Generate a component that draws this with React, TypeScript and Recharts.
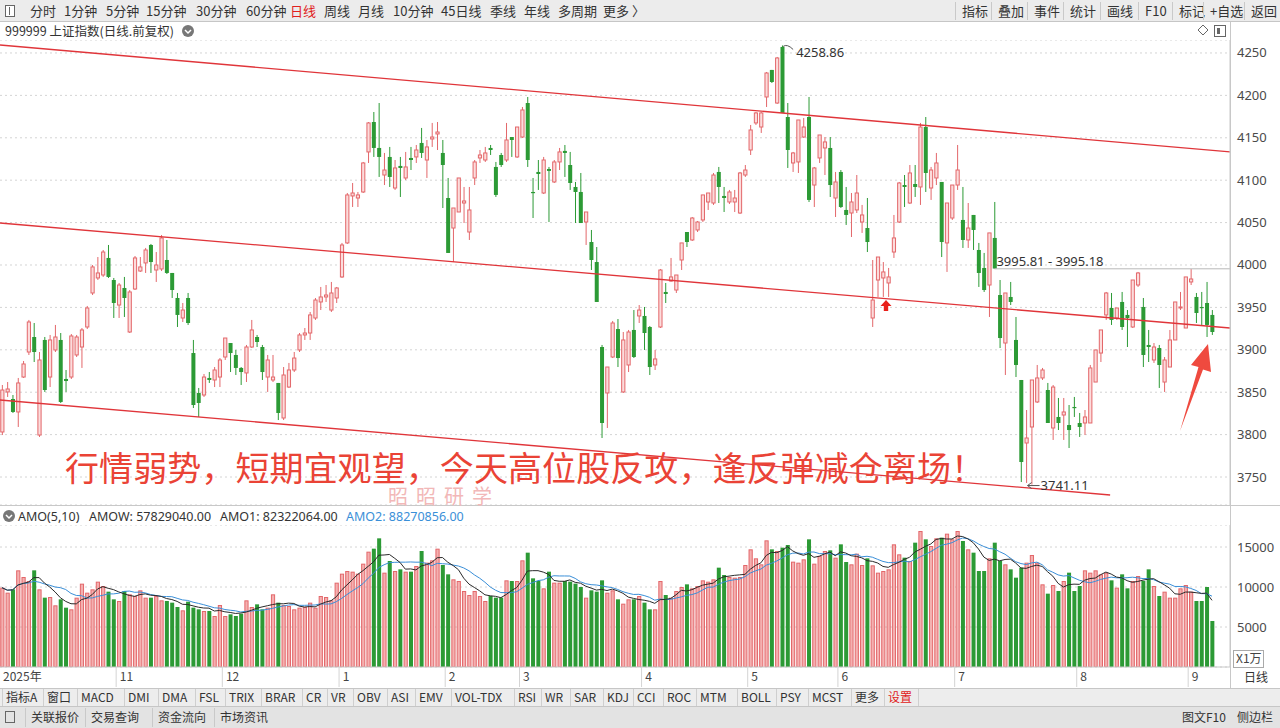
import React from "react";
import {
  ComposedChart,
  Bar,
  Line,
  XAxis,
  YAxis,
  CartesianGrid,
  ReferenceLine,
  ReferenceDot,
} from "recharts";

// 上证指数 日线 (前复权) — 开 / 高 / 低 / 收
const opens = [
  3803.1, 3850.3, 3842.0, 3826.7, 3867.9, 3897.4, 3915.1, 3799.5, 3911.6, 3867.9,
  3899.8, 3911.6, 3865.6, 3867.9, 3893.9, 3903.3, 3926.9, 3967.0, 3984.7, 3988.2,
  4008.3, 3982.3, 3952.8, 3972.9, 3921.0, 3971.7, 3992.9, 4002.4, 4023.6, 3994.1,
  3995.3, 4005.9, 3990.6, 3961.1, 3937.5, 3961.1, 3896.2, 3849.1, 3846.7, 3866.8,
  3864.4, 3867.9, 3891.5, 3908.0, 3893.9, 3878.6, 3872.7, 3903.3, 3915.1, 3903.3,
  3867.9, 3864.4, 3860.9, 3819.6, 3856.1, 3876.2, 3899.8, 3917.5, 3919.8, 3937.5,
  3956.4, 3962.3, 3946.9, 3961.1, 3985.9, 4026.0, 4081.4, 4079.0, 4086.1, 4133.3,
  4168.6, 4138.0, 4106.1, 4127.4, 4090.8, 4116.8, 4102.6, 4126.2, 4127.4, 4143.9,
  4123.8, 4148.6, 4154.5, 4132.1, 4079.0, 4043.6, 4062.5, 4073.1, 4038.9, 4102.6,
  4126.2, 4123.8, 4138.0, 4115.6, 4129.7, 4123.8, 4150.9, 4127.4, 4150.9, 4191.0,
  4086.1, 4109.7, 4084.9, 4113.2, 4097.9, 4121.5, 4134.5, 4117.9, 4092.0, 4086.1,
  4050.7, 4027.1, 4003.5, 3903.3, 3849.1, 3891.5, 3924.5, 3850.3, 3882.1, 3923.4,
  3939.9, 3939.9, 3926.9, 3882.1, 3926.9, 3968.2, 3981.1, 3970.5, 4005.9, 4038.9,
  4029.5, 4041.3, 4053.1, 4074.3, 4073.1, 4109.7, 4081.4, 4074.3, 4074.3, 4061.3,
  4106.1, 4135.6, 4167.5, 4162.7, 4198.1, 4230.0, 4191.0, 4257.1, 4174.5, 4120.3,
  4121.5, 4150.9, 4174.5, 4094.3, 4126.2, 4138.0, 4138.0, 4079.0, 4109.7, 4064.9,
  4061.3, 4064.9, 4050.7, 4043.6, 3937.5, 3982.3, 3984.7, 3978.8, 4015.3, 4050.7,
  4094.3, 4073.1, 4095.5, 4092.0, 4162.7, 4090.8, 4102.6, 4097.9, 4026.0, 4055.4,
  4094.3, 4053.1, 4029.5, 4059.0, 4017.7, 3996.5, 3976.4, 4031.9, 3964.6, 3908.0,
  3962.3, 3911.6, 3864.4, 3790.1, 3809.0, 3838.5, 3866.8, 3852.6, 3807.8, 3820.8,
  3823.1, 3811.3, 3832.6, 3813.7, 3813.7, 3813.7, 3862.0, 3896.2, 3941.1, 3949.3,
  3937.5, 3956.4, 3941.1, 3926.9, 3976.4, 3950.5, 3905.7, 3888.0, 3902.1, 3862.0,
  3879.7, 3911.6, 3949.3, 3925.7, 3980.0, 3962.3, 3950.5, 3955.2, 3941.1,
];

const highs = [
  3858.5, 3862.0, 3846.7, 3866.8, 3886.8, 3935.2, 3931.6, 3897.4, 3915.1, 3917.5,
  3929.3, 3919.8, 3876.2, 3918.6, 3917.5, 3925.7, 3951.7, 4000.0, 4009.4, 4017.7,
  4023.6, 3984.7, 3978.8, 3985.9, 3970.5, 4010.6, 4009.4, 4020.1, 4024.8, 4015.3,
  4035.4, 4029.5, 3990.6, 3967.0, 3955.2, 3967.0, 3911.6, 3855.0, 3871.5, 3873.8,
  3879.7, 3890.3, 3913.9, 3908.0, 3899.8, 3879.7, 3905.7, 3935.2, 3917.5, 3905.7,
  3893.9, 3893.9, 3860.9, 3879.7, 3884.5, 3897.4, 3919.8, 3925.7, 3944.6, 3961.1,
  3974.1, 3976.4, 3980.0, 3974.1, 4026.0, 4084.9, 4096.7, 4086.1, 4121.5, 4168.6,
  4180.4, 4191.0, 4132.1, 4139.2, 4123.8, 4127.4, 4133.3, 4139.2, 4141.5, 4161.6,
  4147.4, 4167.5, 4168.6, 4147.4, 4102.6, 4067.2, 4102.6, 4092.0, 4092.0, 4123.8,
  4135.6, 4139.2, 4141.5, 4121.5, 4132.1, 4167.5, 4150.9, 4162.7, 4186.3, 4198.1,
  4102.6, 4123.8, 4127.4, 4115.6, 4123.8, 4138.0, 4141.5, 4133.3, 4097.9, 4108.5,
  4062.5, 4041.3, 4021.2, 3905.7, 3879.7, 3934.0, 3936.3, 3921.0, 3923.4, 3946.9,
  3952.8, 3950.5, 3928.1, 3899.8, 3995.3, 3978.8, 4008.3, 3988.2, 4026.0, 4038.9,
  4056.6, 4051.9, 4082.6, 4084.9, 4108.5, 4115.6, 4092.0, 4088.5, 4088.5, 4109.7,
  4117.9, 4165.1, 4180.4, 4180.4, 4227.6, 4230.0, 4245.3, 4258.86, 4191.0, 4133.3,
  4171.0, 4173.4, 4198.1, 4115.6, 4153.3, 4150.9, 4150.9, 4109.7, 4112.0, 4092.0,
  4084.9, 4106.1, 4070.8, 4079.0, 4005.9, 4009.4, 4003.5, 3996.5, 4059.0, 4097.9,
  4106.1, 4117.9, 4117.9, 4167.5, 4174.5, 4115.6, 4132.1, 4097.9, 4073.1, 4094.3,
  4141.5, 4092.0, 4073.1, 4059.0, 4026.0, 4014.2, 4037.8, 4074.3, 3982.3, 3967.0,
  3980.0, 3938.7, 3864.4, 3829.0, 3864.4, 3882.1, 3878.6, 3860.9, 3858.5, 3843.2,
  3843.2, 3834.9, 3844.4, 3825.5, 3829.0, 3882.1, 3899.8, 3923.4, 3968.2, 3967.0,
  3949.3, 3968.2, 3946.9, 3982.3, 3991.8, 3961.1, 3923.4, 3908.0, 3905.7, 3891.5,
  3923.4, 3956.4, 3968.2, 3985.9, 3995.18, 3967.0, 3968.2, 3980.0, 3946.9,
];

const lows = [
  3799.5, 3844.4, 3825.5, 3809.0, 3866.8, 3893.9, 3885.6, 3797.2, 3850.3, 3856.1,
  3897.4, 3837.3, 3850.3, 3865.6, 3891.5, 3878.6, 3924.5, 3964.6, 3982.3, 3985.9,
  3984.7, 3937.5, 3937.5, 3938.7, 3919.8, 3970.5, 3991.8, 3990.6, 3990.6, 3980.0,
  3992.9, 3989.4, 3961.1, 3926.9, 3932.8, 3929.3, 3831.4, 3820.8, 3844.4, 3860.9,
  3856.1, 3856.1, 3888.0, 3873.8, 3870.3, 3858.5, 3862.0, 3902.1, 3903.3, 3864.4,
  3850.3, 3862.0, 3817.2, 3817.2, 3855.0, 3873.8, 3897.4, 3911.6, 3911.6, 3935.2,
  3946.9, 3956.4, 3944.6, 3955.2, 3984.7, 4024.8, 4068.4, 4068.4, 4084.9, 4120.3,
  4127.4, 4103.8, 4094.3, 4092.0, 4088.5, 4080.2, 4100.2, 4112.0, 4120.3, 4126.2,
  4102.6, 4139.2, 4135.6, 4067.2, 4014.2, 4003.5, 4062.5, 4049.5, 4029.5, 4094.3,
  4120.3, 4121.5, 4129.7, 4080.2, 4115.6, 4121.5, 4127.4, 4126.2, 4149.8, 4115.6,
  4055.4, 4088.5, 4083.7, 4050.7, 4096.7, 4112.0, 4103.8, 4088.5, 4049.5, 4049.5,
  4023.6, 3994.1, 3956.4, 3796.0, 3807.8, 3890.3, 3879.7, 3849.1, 3873.8, 3890.3,
  3931.6, 3899.8, 3870.3, 3876.2, 3925.7, 3955.2, 3980.0, 3967.0, 3994.1, 4021.2,
  4028.3, 4038.9, 4050.7, 4064.9, 4070.8, 4073.1, 4062.5, 4071.9, 4062.5, 4060.2,
  4103.8, 4129.7, 4165.1, 4155.7, 4186.3, 4214.6, 4189.9, 4179.3, 4114.4, 4109.7,
  4108.5, 4149.8, 4074.3, 4068.4, 4120.3, 4106.1, 4080.2, 4056.6, 4067.2, 4047.2,
  4033.0, 4061.3, 4037.8, 4015.3, 3926.9, 3962.3, 3962.3, 3962.3, 4008.3, 4049.5,
  4068.4, 4071.9, 4080.2, 4070.8, 4086.1, 4076.7, 4094.3, 4009.4, 3991.8, 4053.1,
  4088.5, 4020.1, 4020.1, 4017.7, 3974.1, 3968.2, 3938.7, 3995.81, 3902.1, 3870.3,
  3952.8, 3867.9, 3744.1, 3743.0, 3741.11, 3837.3, 3864.4, 3813.7, 3793.7, 3805.4,
  3793.7, 3784.2, 3820.8, 3797.2, 3799.5, 3813.7, 3862.0, 3885.6, 3935.2, 3929.3,
  3935.2, 3923.4, 3903.3, 3925.7, 3974.1, 3879.7, 3885.6, 3884.5, 3855.0, 3850.3,
  3879.7, 3911.6, 3946.9, 3925.7, 3976.4, 3931.6, 3929.3, 3915.1, 3917.5,
];

const closes = [
  3852.6, 3853.8, 3826.7, 3860.9, 3883.3, 3932.8, 3897.4, 3888.0, 3852.6, 3911.6,
  3915.1, 3838.5, 3863.2, 3916.3, 3915.1, 3923.4, 3949.3, 3997.7, 3990.6, 4015.3,
  3985.9, 3955.2, 3976.4, 3961.1, 3968.2, 4008.3, 3997.7, 4017.7, 4003.5, 4000.0,
  4031.9, 3990.6, 3970.5, 3941.1, 3946.9, 3931.6, 3834.9, 3837.3, 3867.9, 3864.4,
  3876.2, 3888.0, 3913.9, 3896.2, 3878.6, 3873.8, 3903.3, 3923.4, 3909.2, 3873.8,
  3888.0, 3867.9, 3825.5, 3870.3, 3876.2, 3890.3, 3917.5, 3919.8, 3941.1, 3958.7,
  3962.3, 3964.6, 3967.0, 3972.9, 4023.6, 4082.6, 4084.9, 4082.6, 4120.3, 4167.5,
  4138.0, 4127.4, 4112.0, 4103.8, 4114.4, 4114.4, 4115.6, 4123.8, 4135.6, 4132.1,
  4139.2, 4150.9, 4156.8, 4117.9, 4014.2, 4067.2, 4102.6, 4075.5, 4064.9, 4121.5,
  4129.7, 4132.1, 4135.6, 4082.6, 4117.9, 4147.4, 4147.4, 4162.7, 4182.8, 4123.8,
  4084.9, 4107.3, 4123.8, 4110.9, 4121.5, 4133.3, 4132.1, 4096.7, 4086.1, 4049.5,
  4062.5, 4005.9, 3956.4, 3813.7, 3879.7, 3931.6, 3890.3, 3911.6, 3921.0, 3891.5,
  3946.9, 3919.8, 3879.7, 3889.2, 3994.1, 3965.8, 3985.9, 3988.2, 4026.0, 4027.1,
  4055.4, 4050.7, 4082.6, 4084.9, 4106.1, 4092.0, 4079.0, 4086.1, 4079.0, 4108.5,
  4112.0, 4159.2, 4179.3, 4179.3, 4226.4, 4215.8, 4244.1, 4179.3, 4135.6, 4132.1,
  4171.0, 4162.7, 4076.7, 4114.4, 4153.3, 4145.1, 4094.3, 4097.9, 4068.4, 4059.0,
  4074.3, 4084.9, 4059.0, 4027.1, 3958.7, 4009.4, 3991.8, 3985.9, 4031.9, 4096.7,
  4092.0, 4108.5, 4092.0, 4162.7, 4108.5, 4112.0, 4120.3, 4027.1, 4073.1, 4094.3,
  4112.0, 4029.5, 4043.6, 4041.3, 3990.6, 3970.5, 4037.8, 3995.81, 3913.9, 3967.0,
  3956.4, 3882.1, 3767.7, 3796.0, 3864.4, 3866.8, 3876.2, 3813.7, 3856.1, 3813.7,
  3826.7, 3805.4, 3831.4, 3809.0, 3820.8, 3878.6, 3899.8, 3923.4, 3967.0, 3935.2,
  3949.3, 3926.9, 3937.5, 3982.3, 3990.6, 3893.9, 3903.3, 3903.3, 3882.1, 3888.0,
  3911.6, 3956.4, 3950.5, 3985.9, 3983.5, 3943.4, 3949.3, 3929.3, 3921.0,
];

// 成交额 AMO (X1万)
const amounts = [
  9917, 9292, 9708, 12083, 11250, 10750, 12083, 9708, 8667, 8750,
  7708, 8458, 7417, 7208, 8667, 10417, 9292, 9708, 10667, 10125,
  9417, 8458, 8250, 9500, 9083, 8875, 9583, 8667, 8667, 8875,
  8333, 8250, 8042, 7500, 7083, 8167, 7417, 7208, 7000, 7000,
  6375, 7750, 6375, 6583, 6375, 6667, 8333, 7500, 7833, 7208,
  7417, 9083, 8042, 7750, 7625, 7208, 7417, 7500, 8042, 7417,
  8875, 8750, 8333, 10542, 11667, 12000, 11917, 11667, 12917, 14417,
  14792, 16083, 11792, 13250, 12000, 12208, 11917, 11917, 12625, 14500,
  13042, 13333, 14792, 12750, 11583, 10958, 10750, 9500, 9000, 9500,
  8875, 8250, 8875, 8667, 8667, 10833, 10750, 10750, 13333, 14292,
  11083, 10750, 9833, 11917, 10542, 10542, 10750, 10667, 10417, 10000,
  8667, 9583, 9417, 10833, 9292, 9583, 8458, 7917, 8458, 8458,
  8875, 8042, 7208, 7208, 10750, 9000, 8667, 9500, 10000, 10333,
  9833, 10125, 10833, 10667, 10958, 12417, 11500, 11250, 11167, 11250,
  12750, 14708, 13583, 12833, 15833, 14708, 14500, 14917, 15250, 13167,
  13042, 13458, 15958, 12917, 13875, 14500, 14583, 13667, 15333, 13125,
  12833, 14167, 12750, 13583, 12708, 11792, 12000, 12208, 15333, 14083,
  13667, 13250, 15542, 17000, 15958, 15125, 16083, 16167, 16667, 15958,
  17000, 15750, 14708, 14292, 12000, 12000, 13583, 15542, 13250, 12833,
  12208, 11167, 12417, 13042, 14000, 13042, 10333, 9167, 10250, 9500,
  10750, 11792, 9500, 10125, 12083, 11792, 12083, 11583, 11792, 10833,
  9917, 11583, 9833, 10750, 11375, 10750, 12208, 10125, 8875, 9417,
  8667, 8667, 9833, 10250, 9417, 8250, 8250, 10000, 5750,
];

const priceTicks = [3750, 3800, 3850, 3900, 3950, 4000, 4050, 4100, 4150, 4200, 4250];
const amountTicks = [5000, 10000, 15000];
const monthTicks = [0, 22, 42, 64, 84, 98, 121, 141, 158, 180, 203, 224];
const monthLabels = ["2025年", "11", "12", "1", "2", "3", "4", "5", "6", "7", "8", "9"];

// 通道线 (K线序号, 点位)
const upperChannel = [
  { x: -0.38, y: 4259.4 },
  { x: 231.39, y: 4133.3 },
];
const middleChannel = [
  { x: -0.38, y: 4049.5 },
  { x: 231.39, y: 3925.7 },
];
const lowerChannel = [
  { x: -0.38, y: 3840.8 },
  { x: 208.8, y: 3728.8 },
];

const X_MIN = -0.377;
const X_MAX = 231.39;

const CJK = '"Noto Sans CJK SC", "Noto Sans", sans-serif';
const NUM = '"Noto Sans", "Noto Sans CJK SC", sans-serif';
const UP = "#e3676a";
const UP_FILL = "#fcdcdc";
const UP_VOL = "#f4b0b0";
const DOWN = "#2c9a35";
const RED = "#ea4336";

const avg = (arr: number[], i: number, n: number) => {
  const s = arr.slice(Math.max(0, i - n + 1), i + 1);
  return s.reduce((a, b) => a + b, 0) / s.length;
};

const rows = opens.map((o, i) => ({
  i,
  o,
  h: highs[i],
  l: lows[i],
  c: closes[i],
  up: closes[i] >= o,
  v: amounts[i],
  ma5: avg(amounts, i, 5),
  ma10: avg(amounts, i, 10),
}));

function Candle(props: any) {
  const { x, y, width, height, payload } = props;
  if (!payload || x == null || y == null) return null;
  const top = height < 0 ? y + height : y;
  const span = Math.abs(height);
  const range = payload.h - payload.l || 1;
  const py = (v: number) => top + ((payload.h - v) / range) * span;
  const cx = x + width / 2;
  const bt = py(Math.max(payload.o, payload.c));
  const bb = py(Math.min(payload.o, payload.c));
  const col = payload.up ? UP : DOWN;
  return (
    <g>
      <line x1={cx} x2={cx} y1={top} y2={top + span} stroke={col} strokeWidth={1} />
      {payload.up ? (
        <rect x={cx - 1.6} y={bt} width={3.2} height={Math.max(bb - bt, 0.8)} fill={UP_FILL} stroke={col} strokeWidth={1} />
      ) : (
        <rect x={cx - 2} y={bt} width={4} height={Math.max(bb - bt, 1.2)} fill={DOWN} />
      )}
    </g>
  );
}

function VolBar(props: any) {
  const { x, y, width, height, payload } = props;
  if (!payload || x == null || y == null) return null;
  const cx = x + width / 2;
  if (payload.up) {
    return <rect x={cx - 1.6} y={y + 0.5} width={3.2} height={Math.max(height - 0.5, 0)} fill={UP_VOL} stroke={UP} strokeWidth={1} />;
  }
  return <rect x={cx - 2} y={y} width={4} height={height} fill={DOWN} />;
}

function PriceTick(props: any) {
  const { x, y, payload } = props;
  return (
    <text x={x + 5} y={y + 4.5} fill="#4a4a4a" fontSize={13} fontFamily={NUM}>
      {payload.value}
    </text>
  );
}

function MonthTick(props: any) {
  const { x, y, payload } = props;
  const k = monthTicks.indexOf(payload.value);
  return (
    <g>
      <line x1={x - 2.6} x2={x - 2.6} y1={y} y2={y + 20} stroke="#d4d4d4" />
      <text x={x + 1} y={y + 14} fill="#444" fontSize={12} fontFamily={CJK}>
        {monthLabels[k]}
      </text>
    </g>
  );
}

function PeakNote(props: any) {
  const { cx, cy } = props;
  return (
    <g>
      <path d={`M ${cx + 1} ${cy + 1} Q ${cx + 5} ${cy - 2} ${cx + 11} ${cy + 4}`} fill="none" stroke="#555" strokeWidth={1} />
      <text x={cx + 14} y={cy + 11.5} fontSize={13} fill="#333" fontFamily={NUM}>4258.86</text>
    </g>
  );
}

function RangeNote(props: any) {
  const { cx, cy } = props;
  return (
    <text x={cx + 2} y={cy - 3} fontSize={13} fill="#333" fontFamily={NUM}>3995.81 - 3995.18</text>
  );
}

function LowNote(props: any) {
  const { cx, cy } = props;
  return (
    <g>
      <line x1={cx - 4} x2={cx + 8} y1={cy + 1} y2={cy + 1} stroke="#555" />
      <path d={`M ${cx - 4} ${cy + 1} l 4 -3 M ${cx - 4} ${cy + 1} l 4 3`} stroke="#555" fill="none" />
      <text x={cx + 9} y={cy + 5.5} fontSize={13} fill="#333" fontFamily={NUM}>3741.11</text>
    </g>
  );
}

const topLeft: [string, number][] = [
  ["分时", 30], ["1分钟", 64], ["5分钟", 106], ["15分钟", 146], ["30分钟", 196], ["60分钟", 246],
  ["日线", 290], ["周线", 324], ["月线", 358], ["10分钟", 393], ["45日线", 441], ["季线", 490],
  ["年线", 524], ["多周期", 558], ["更多 〉", 603],
];
const topRight: [string, number][] = [
  ["指标", 962], ["叠加", 998], ["事件", 1034], ["统计", 1070], ["画线", 1107], ["F10", 1145],
  ["标记", 1179], ["+自选", 1210], ["返回", 1251],
];
const tabs: [string, number][] = [
  ["指标A", 6], ["窗口", 47], ["MACD", 81], ["DMI", 128], ["DMA", 162], ["FSL", 199], ["TRIX", 229],
  ["BRAR", 265], ["CR", 306], ["VR", 331], ["OBV", 357], ["ASI", 391], ["EMV", 419], ["VOL-TDX", 455],
  ["RSI", 518], ["WR", 545], ["SAR", 574], ["KDJ", 607], ["CCI", 637], ["ROC", 667], ["MTM", 700],
  ["BOLL", 741], ["PSY", 780], ["MCST", 812], ["更多", 855], ["设置", 888],
];
const statusItems: [string, number][] = [
  ["关联报价", 31], ["交易查询", 91], ["资金流向", 158], ["市场资讯", 220],
];

export default function App() {
  return (
    <div style={{ position: "fixed", left: 0, top: 0, width: 1280, height: 728, background: "#fff", overflow: "hidden" }}>
      <div style={{ position: "absolute", left: 0, top: 40 }}>
        <ComposedChart width={1280} height={465} data={rows} margin={{ top: 0, right: 0, bottom: 0, left: 0 }}>
          <CartesianGrid vertical={false} stroke="#d4d4d4" strokeDasharray="2 3" />
          <XAxis type="number" dataKey="i" domain={[X_MIN, X_MAX]} hide allowDataOverflow />
          <YAxis
            orientation="right"
            width={50}
            domain={[3717, 4265.3]}
            ticks={priceTicks}
            allowDataOverflow
            axisLine={{ stroke: "#c8c8c8" }}
            tickLine={false}
            tickSize={0}
            tick={<PriceTick />}
          />
          <Bar dataKey={(d: any) => [d.l, d.h]} barSize={4} shape={(p: any) => <Candle {...p} />} isAnimationActive={false} />
          <ReferenceLine segment={upperChannel} stroke="#e0353a" strokeWidth={1.3} ifOverflow="hidden" />
          <ReferenceLine segment={middleChannel} stroke="#e0353a" strokeWidth={1.3} ifOverflow="hidden" />
          <ReferenceLine segment={lowerChannel} stroke="#e0353a" strokeWidth={1.3} ifOverflow="hidden" />
          <ReferenceLine segment={[{ x: 187, y: 3995.5 }, { x: X_MAX, y: 3995.5 }]} stroke="#b8b8b8" strokeWidth={1} ifOverflow="hidden" />
          <ReferenceDot x={147} y={4258.86} r={0} ifOverflow="visible" shape={(p: any) => <PeakNote {...p} />} />
          <ReferenceDot x={187} y={3995.5} r={0} ifOverflow="visible" shape={(p: any) => <RangeNote {...p} />} />
          <ReferenceDot x={194} y={3741.11} r={0} ifOverflow="visible" shape={(p: any) => <LowNote {...p} />} />
        </ComposedChart>
      </div>

      <div style={{ position: "absolute", left: 0, top: 525 }}>
        <ComposedChart width={1280} height={163} data={rows} margin={{ top: 0, right: 0, bottom: 0, left: 0 }}>
          <CartesianGrid vertical={false} stroke="#d4d4d4" strokeDasharray="2 3" />
          <XAxis
            type="number"
            dataKey="i"
            domain={[X_MIN, X_MAX]}
            allowDataOverflow
            ticks={monthTicks}
            interval={0}
            height={21}
            axisLine={{ stroke: "#c8c8c8" }}
            tickLine={false}
            tickSize={0}
            tickMargin={0}
            tick={<MonthTick />}
          />
          <YAxis
            orientation="right"
            width={50}
            domain={[0, 17750]}
            ticks={amountTicks}
            allowDataOverflow
            axisLine={{ stroke: "#c8c8c8" }}
            tickLine={false}
            tickSize={0}
            tick={<PriceTick />}
          />
          <Bar dataKey="v" barSize={4} shape={(p: any) => <VolBar {...p} />} isAnimationActive={false} />
          <Line type="linear" dataKey="ma10" stroke="#3a8fd8" strokeWidth={1} dot={false} isAnimationActive={false} />
          <Line type="linear" dataKey="ma5" stroke="#2a2a2a" strokeWidth={1} dot={false} isAnimationActive={false} />
        </ComposedChart>
      </div>

      <svg width={1280} height={728} style={{ position: "absolute", left: 0, top: 0, pointerEvents: "none" }}>
        {/* 顶部工具栏 */}
        <rect x={0} y={0} width={1280} height={22} fill="#ececec" />
        <line x1={0} x2={1280} y1={21.5} y2={21.5} stroke="#c6c6c6" />
        <rect x={5.5} y={5.5} width={9} height={11} fill="#fff" stroke="#666" />
        <line x1={9.5} x2={9.5} y1={7} y2={15} stroke="#666" />
        {topLeft.map(([t, x]) => (
          <text key={t} x={x} y={16} fontSize={13} fill={t === "日线" ? "#e02020" : "#333"} fontFamily={CJK}>{t}</text>
        ))}
        {topRight.map(([t, x]) => (
          <g key={t}>
            <line x1={x - 6.5} x2={x - 6.5} y1={2} y2={20} stroke="#c9c9c9" />
            <text x={x} y={16} fontSize={13} fill="#333" fontFamily={CJK}>{t}</text>
          </g>
        ))}

        {/* 标题行 */}
        <text x={5} y={36} fontSize={12.5} fill="#333" fontFamily={CJK}>999999 上证指数(日线.前复权)</text>
        <circle cx={188} cy={31} r={6} fill="#777" />
        <path d="M 185 30 l 3 3 l 3 -3" stroke="#fff" strokeWidth={1.5} fill="none" />
        <path d="M 1203 25 l 5 5 l -5 5 l -5 -5 z" fill="none" stroke="#666" />
        <rect x={1214.5} y={25.5} width={11} height={11} fill="none" stroke="#666" />
        <rect x={1217} y={28} width={3} height={6} fill="#666" />

        {/* 右侧坐标分隔线 */}
        <line x1={1230.5} x2={1230.5} y1={22} y2={688} stroke="#c8c8c8" />
        <line x1={0} x2={1280} y1={505.5} y2={505.5} stroke="#c8c8c8" />

        {/* AMO 指标标题 */}
        <circle cx={9} cy={516} r={6} fill="#777" />
        <path d="M 6 515 l 3 3 l 3 -3" stroke="#fff" strokeWidth={1.5} fill="none" />
        <text x={18} y={521} fontSize={12.5} fill="#333" fontFamily={NUM}>AMO(5,10)</text>
        <text x={89} y={521} fontSize={12.5} fill="#333" fontFamily={NUM}>AMOW: 57829040.00</text>
        <text x={220} y={521} fontSize={12.5} fill="#333" fontFamily={NUM}>AMO1: 82322064.00</text>
        <text x={346} y={521} fontSize={12.5} fill="#3a8fd8" fontFamily={NUM}>AMO2: 88270856.00</text>

        <rect x={1233.5} y={650.5} width={30} height={17} fill="#fff" stroke="#aaa" />
        <text x={1236} y={663} fontSize={12} fill="#444" fontFamily={CJK}>X1万</text>
        <text x={1244} y={682} fontSize={12} fill="#333" fontFamily={CJK}>日线</text>

        {/* 指标栏 */}
        <rect x={0} y={688} width={1280} height={18} fill="#ededed" />
        <line x1={0} x2={1280} y1={688.5} y2={688.5} stroke="#c6c6c6" />
        {tabs.map(([t, x]) => (
          <g key={t}>
            <line x1={x - 3.5} x2={x - 3.5} y1={689} y2={706} stroke="#cfcfcf" />
            <text x={x} y={701.5} fontSize={12} fill={t === "设置" ? "#e02020" : "#333"} fontFamily={CJK}>{t}</text>
          </g>
        ))}
        <line x1={918.5} x2={918.5} y1={689} y2={706} stroke="#cfcfcf" />

        {/* 状态栏 */}
        <rect x={0} y={706} width={1280} height={22} fill="#e3e3e3" />
        <line x1={0} x2={1280} y1={706.5} y2={706.5} stroke="#c6c6c6" />
        <rect x={5.5} y={711.5} width={9} height={11} fill="none" stroke="#666" />
        {statusItems.map(([t, x]) => (
          <g key={t}>
            <line x1={x - 5.5} x2={x - 5.5} y1={708} y2={727} stroke="#c9c9c9" />
            <text x={x} y={722} fontSize={12} fill="#333" fontFamily={CJK}>{t}</text>
          </g>
        ))}
        <text x={1182} y={722} fontSize={12} fill="#333" fontFamily={CJK}>图文F10</text>
        <text x={1237} y={722} fontSize={12} fill="#333" fontFamily={CJK}>侧边栏</text>

        {/* 标注 */}
        <text x={65} y={481} fontSize={34} fill={RED} fontFamily={CJK} textLength={920} lengthAdjust="spacing">
          行情弱势，短期宜观望，今天高位股反攻，逢反弹减仓离场！
        </text>
        <text x={388} y={504} fontSize={20} fill="#f2b8b8" fontFamily={CJK} textLength={104} lengthAdjust="spacing">
          昭昭研学
        </text>
        <polygon points="1180,431 1198.5,367 1191,365 1208,344 1211,372 1203,369.5" fill="#ef4a3f" />
        <polygon points="886,300 891.5,306 888.2,306 888.2,311 883.8,311 883.8,306 880.5,306" fill="#e8201a" />
      </svg>
    </div>
  );
}
